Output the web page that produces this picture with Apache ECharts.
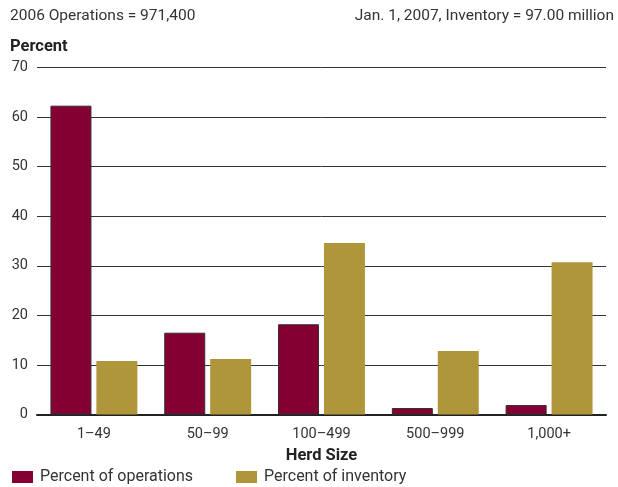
<!DOCTYPE html>
<html><head><meta charset="utf-8">
<script src="https://cdn.jsdelivr.net/npm/echarts@6/dist/echarts.min.js"></script>
<style>html,body{margin:0;padding:0;background:#fff}#c{width:618px;height:487px}</style>
</head><body><div id="c"></div>
<script>
const categories = ['1–49', '50–99', '100–499', '500–999', '1,000+'];
const operations = [62.3, 16.5, 18.2, 1.3, 1.9];
const inventory = [10.8, 11.2, 34.6, 12.8, 30.7];
const yTicks = [0, 10, 20, 30, 40, 50, 60, 70];
const FONT = 'Roboto';
const chart = echarts.init(document.getElementById('c'));
chart.setOption({
  animation: false,
  textStyle: {fontFamily: FONT},
  title: [
    {text: '2006 Operations = 971,400', left: 10, top: 8, padding: 0, textStyle: {fontSize: 15.5, fontWeight: 'normal', color: '#333', fontFamily: FONT}},
    {text: 'Jan. 1, 2007, Inventory = 97.00 million', right: 4, top: 8, padding: 0, textStyle: {fontSize: 15.5, fontWeight: 'normal', color: '#333', fontFamily: FONT}},
    {text: 'Percent', left: 10, top: 38, padding: 0, textStyle: {fontSize: 16.5, fontWeight: 'bold', color: '#222', fontFamily: FONT}}
  ],
  legend: [
    {data: ['Percent of operations'], left: 12, top: 469, padding: 0, itemWidth: 21, itemHeight: 12,
     icon: 'rect', itemStyle: {borderWidth: 0},
     textStyle: {fontSize: 16, color: '#333', fontFamily: FONT, padding: [0, 0, 0, 2]}},
    {data: ['Percent of inventory'], left: 236, top: 469, padding: 0, itemWidth: 21, itemHeight: 12,
     icon: 'rect', itemStyle: {borderWidth: 0},
     textStyle: {fontSize: 16, color: '#333', fontFamily: FONT, padding: [0, 0, 0, 2]}}
  ],
  grid: {left: 37, right: 12, top: 67.5, bottom: 72.5, containLabel: false},
  xAxis: {
    type: 'category', data: categories,
    name: 'Herd Size', nameLocation: 'middle', nameGap: 33,
    nameTextStyle: {fontSize: 16.5, fontWeight: 'bold', color: '#222', fontFamily: FONT},
    axisLine: {lineStyle: {color: '#222', width: 2}},
    axisTick: {show: false},
    axisLabel: {fontSize: 14.5, color: '#333', margin: 12, fontFamily: FONT}
  },
  yAxis: {
    type: 'value', min: 0, max: 70, interval: 10,
    axisLine: {show: false}, axisTick: {show: false},
    axisLabel: {fontSize: 14.5, color: '#333', margin: 9, fontFamily: FONT,
      formatter: v => yTicks.includes(v) ? String(v) : ''},
    splitLine: {lineStyle: {color: '#333', width: 1}}
  },
  series: [
    {name: 'Percent of operations', type: 'bar', data: operations, barWidth: 41, barGap: '12%',
     itemStyle: {color: '#840033', borderColor: '#3a2a2e', borderWidth: 1}},
    {name: 'Percent of inventory', type: 'bar', data: inventory, barWidth: 41,
     itemStyle: {color: '#B0963B'}}
  ]
});
</script></body></html>
